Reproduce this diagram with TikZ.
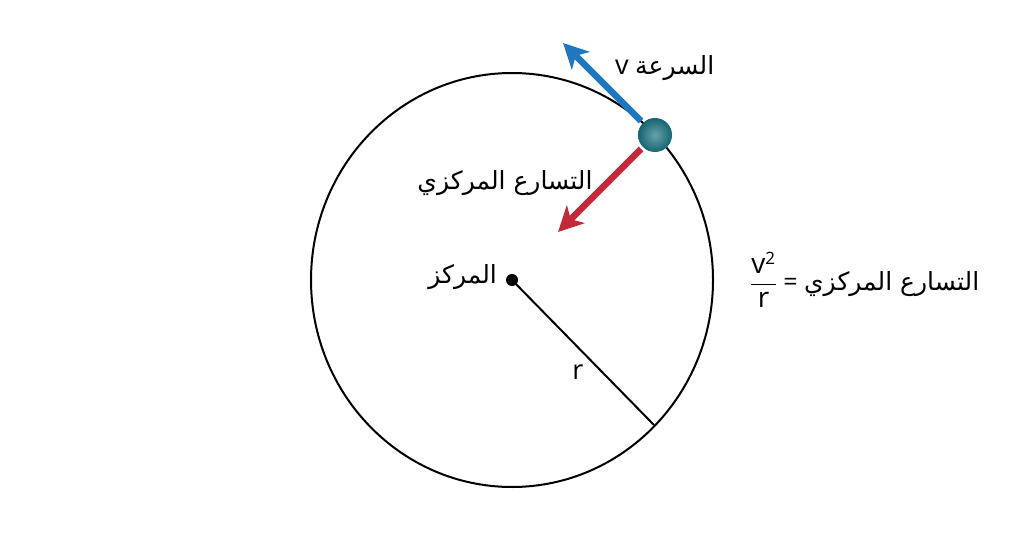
\documentclass[tikz,border=0pt]{standalone}
\usepackage{fontspec}
\setmainfont{Open Sans}
\newfontfamily\arabicfont[Script=Arabic]{DejaVu Sans}
\newfontfamily\latinfont{Open Sans}
\TeXXeTstate=1
\usetikzlibrary{arrows.meta}
\definecolor{velblue}{HTML}{1F77BF}
\definecolor{accred}{HTML}{C22A3A}
\definecolor{ballteal}{HTML}{17707D}
\tikzset{
  vecarrow/.style={line width=6.5pt,-{Stealth[length=25pt,width=25pt,inset=7pt]}},
  lbl/.style={inner sep=0pt,font=\fontsize{25}{28}\selectfont},
  latlbl/.style={inner sep=0pt,font=\latinfont\fontsize{27}{30}\selectfont},
}
\begin{document}
\begin{tikzpicture}[x=1pt,y=-1pt]
\useasboundingbox (0,0) rectangle (1024,559);
\fill[white] (0,0) rectangle (1024,559);
% orbit
\draw[line width=2pt] (512,280) ellipse [x radius=201, y radius=207];
% centre and radius
\node[circle,fill=black,inner sep=0pt,minimum size=12pt] (c) at (512,280) {};
\coordinate (redge) at (654,425);
\draw[line width=2pt] (c.center) -- (redge);
\node[latlbl] (rl) at (578,372) {r};
\node[lbl,anchor=east] (cl) at (497,277) {\arabicfont\beginR المركز\endR};
% ball
\coordinate (vtip) at (563,43);
\coordinate (atip) at (558,232);
\node[circle,inner sep=0pt,minimum size=34pt] (ball) at (655,135) {};
\draw[vecarrow,velblue] (ball.center) ++(-14,-14) -- (vtip);
\draw[vecarrow,accred] (ball.center) ++(-14,14) -- (atip);
\shade[inner color=ballteal!65!white,outer color=ballteal!90!black] (ball.center) circle (17);
% labels
\node[lbl,anchor=west] (vl) at (615,68) {{\latinfont\fontsize{27}{30}\selectfont v}\ \arabicfont\beginR السرعة\endR};
\node[lbl] (al) at (505,183) {\arabicfont\beginR التسارع المركزي\endR};
\node[lbl,anchor=west] (fl) at (750,280) {$\displaystyle\frac{\hbox{\latinfont\fontsize{28}{30}\selectfont v}^{\hbox{\latinfont\fontsize{17}{18}\selectfont 2}}}{\hbox{\latinfont\fontsize{28}{30}\selectfont r}}$ = \arabicfont\beginR التسارع المركزي\endR};
\end{tikzpicture}
\end{document}
